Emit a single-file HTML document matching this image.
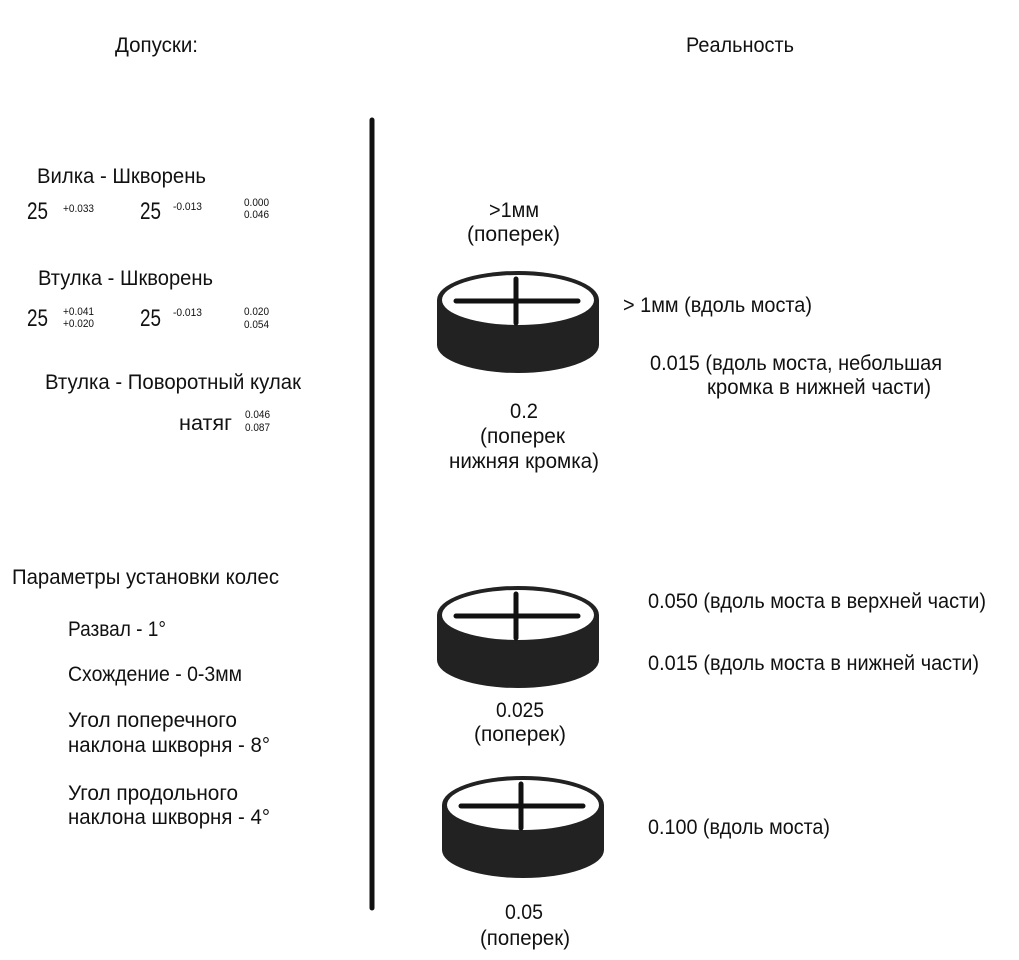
<!DOCTYPE html>
<html><head><meta charset="utf-8"><style>
html,body{margin:0;padding:0;background:#fff;}
svg{display:block;}
text{font-family:"Liberation Sans",sans-serif;fill:#111;}
.t{font-size:21px;}
.s{font-size:11px;}
.b{font-size:24px;}
</style></head><body>
<svg width="1019" height="960" viewBox="0 0 1019 960" xmlns="http://www.w3.org/2000/svg">
<defs>
<g id="puck">
<rect x="0" y="29" width="162" height="45" fill="#222"/>
<ellipse cx="81" cy="74" rx="81" ry="28" fill="#222"/>
<ellipse cx="81" cy="29" rx="81" ry="29" fill="#222"/>
<ellipse cx="81" cy="29" rx="76" ry="25" fill="#fff"/>
<line x1="19" y1="30" x2="141" y2="30" stroke="#111" stroke-width="5" stroke-linecap="round"/>
<line x1="79" y1="8" x2="79" y2="52" stroke="#111" stroke-width="5" stroke-linecap="round"/>
</g>
</defs>
<line x1="372" y1="120" x2="372" y2="908" stroke="#111" stroke-width="5" stroke-linecap="round"/>
<use href="#puck" x="437" y="271"/>
<use href="#puck" x="437" y="586"/>
<use href="#puck" x="442" y="776"/>

<text class="t" lengthAdjust="spacingAndGlyphs" x="115" y="52" textLength="83">Допуски:</text>
<text class="t" lengthAdjust="spacingAndGlyphs" x="686" y="52" textLength="108">Реальность</text>

<text class="t" lengthAdjust="spacingAndGlyphs" x="37" y="183" textLength="169">Вилка - Шкворень</text>
<text class="b" lengthAdjust="spacingAndGlyphs" x="27" y="219" textLength="21">25</text>
<text class="s" lengthAdjust="spacingAndGlyphs" x="63" y="212" textLength="31">+0.033</text>
<text class="b" lengthAdjust="spacingAndGlyphs" x="140" y="219" textLength="21">25</text>
<text class="s" lengthAdjust="spacingAndGlyphs" x="173" y="210" textLength="29">-0.013</text>
<text class="s" lengthAdjust="spacingAndGlyphs" x="244" y="206" textLength="25">0.000</text>
<text class="s" lengthAdjust="spacingAndGlyphs" x="244" y="218" textLength="25">0.046</text>

<text class="t" lengthAdjust="spacingAndGlyphs" x="38" y="285" textLength="175">Втулка - Шкворень</text>
<text class="b" lengthAdjust="spacingAndGlyphs" x="27" y="326" textLength="21">25</text>
<text class="s" lengthAdjust="spacingAndGlyphs" x="63" y="315" textLength="31">+0.041</text>
<text class="s" lengthAdjust="spacingAndGlyphs" x="63" y="327" textLength="31">+0.020</text>
<text class="b" lengthAdjust="spacingAndGlyphs" x="140" y="326" textLength="21">25</text>
<text class="s" lengthAdjust="spacingAndGlyphs" x="173" y="316" textLength="29">-0.013</text>
<text class="s" lengthAdjust="spacingAndGlyphs" x="244" y="315" textLength="25">0.020</text>
<text class="s" lengthAdjust="spacingAndGlyphs" x="244" y="328" textLength="25">0.054</text>

<text class="t" lengthAdjust="spacingAndGlyphs" x="45" y="389" textLength="256">Втулка - Поворотный кулак</text>
<text class="t" lengthAdjust="spacingAndGlyphs" x="179" y="430" textLength="53">натяг</text>
<text class="s" lengthAdjust="spacingAndGlyphs" x="245" y="418" textLength="25">0.046</text>
<text class="s" lengthAdjust="spacingAndGlyphs" x="245" y="431" textLength="25">0.087</text>

<text class="t" lengthAdjust="spacingAndGlyphs" x="12" y="584" textLength="267">Параметры установки колес</text>
<text class="t" lengthAdjust="spacingAndGlyphs" x="68" y="636" textLength="98">Развал - 1°</text>
<text class="t" lengthAdjust="spacingAndGlyphs" x="68" y="681" textLength="174">Схождение - 0-3мм</text>
<text class="t" lengthAdjust="spacingAndGlyphs" x="68" y="727" textLength="169">Угол поперечного</text>
<text class="t" lengthAdjust="spacingAndGlyphs" x="68" y="752" textLength="202">наклона шкворня - 8°</text>
<text class="t" lengthAdjust="spacingAndGlyphs" x="68" y="800" textLength="170">Угол продольного</text>
<text class="t" lengthAdjust="spacingAndGlyphs" x="68" y="824" textLength="202">наклона шкворня - 4°</text>

<text class="t" lengthAdjust="spacingAndGlyphs" x="489" y="217" textLength="50">&gt;1мм</text>
<text class="t" lengthAdjust="spacingAndGlyphs" x="467" y="241" textLength="93">(поперек)</text>
<text class="t" lengthAdjust="spacingAndGlyphs" x="623" y="312" textLength="189">&gt; 1мм (вдоль моста)</text>
<text class="t" lengthAdjust="spacingAndGlyphs" x="650" y="370" textLength="292">0.015 (вдоль моста, небольшая</text>
<text class="t" lengthAdjust="spacingAndGlyphs" x="707" y="394" textLength="224">кромка в нижней части)</text>
<text class="t" lengthAdjust="spacingAndGlyphs" x="510" y="418" textLength="28">0.2</text>
<text class="t" lengthAdjust="spacingAndGlyphs" x="480" y="443" textLength="85">(поперек</text>
<text class="t" lengthAdjust="spacingAndGlyphs" x="449" y="468" textLength="150">нижняя кромка)</text>

<text class="t" lengthAdjust="spacingAndGlyphs" x="648" y="608" textLength="338">0.050 (вдоль моста в верхней части)</text>
<text class="t" lengthAdjust="spacingAndGlyphs" x="648" y="670" textLength="331">0.015 (вдоль моста в нижней части)</text>
<text class="t" lengthAdjust="spacingAndGlyphs" x="496" y="717" textLength="48">0.025</text>
<text class="t" lengthAdjust="spacingAndGlyphs" x="474" y="741" textLength="92">(поперек)</text>

<text class="t" lengthAdjust="spacingAndGlyphs" x="648" y="834" textLength="182">0.100 (вдоль моста)</text>
<text class="t" lengthAdjust="spacingAndGlyphs" x="505" y="919" textLength="38">0.05</text>
<text class="t" lengthAdjust="spacingAndGlyphs" x="480" y="945" textLength="90">(поперек)</text>
</svg>
</body></html>
